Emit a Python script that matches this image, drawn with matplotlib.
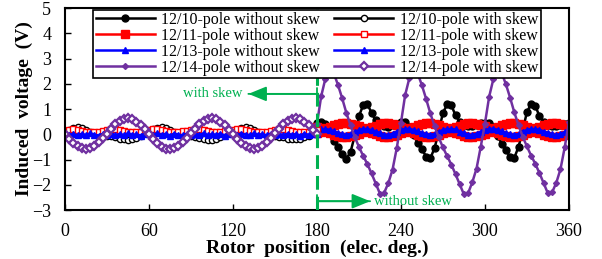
import numpy as np
import matplotlib
matplotlib.use('Agg')
from matplotlib import pyplot as plt

plt.rcParams['font.family'] = 'Liberation Serif'

# rotor positions (elec. deg.) of each half of the trace
POS_WITH = np.arange(0, 181, 3)
POS_WITHOUT = np.arange(180, 361, 3)

# ---- with skew (0 - 180 deg) ----
p10_with = [0.12, 0.18, 0.24, 0.27, 0.25, 0.18, 0.10, 0.03, -0.02, -0.05,
            -0.06, -0.08, -0.12, -0.17, -0.20, -0.21, -0.19, -0.13, -0.05, 0.04,
            0.13, 0.19, 0.25, 0.28, 0.25, 0.17, 0.09, 0.03, -0.02, -0.04,
            -0.06, -0.09, -0.13, -0.18, -0.21, -0.21, -0.18, -0.12, -0.04, 0.05,
            0.12, 0.18, 0.24, 0.27, 0.24, 0.17, 0.10, 0.04, -0.01, -0.05,
            -0.07, -0.09, -0.12, -0.17, -0.20, -0.20, -0.18, -0.12, -0.05, 0.04,
            0.12]
p11_with = [0.15, 0.18, 0.20, 0.18, 0.14, 0.11, 0.09, 0.08, 0.10, 0.13,
            0.16, 0.19, 0.20, 0.17, 0.13, 0.10, 0.08, 0.09, 0.11, 0.14,
            0.17, 0.19, 0.19, 0.16, 0.12, 0.10, 0.08, 0.09, 0.12, 0.15,
            0.18, 0.20, 0.19, 0.16, 0.12, 0.09, 0.08, 0.10, 0.12, 0.15,
            0.17, 0.19, 0.19, 0.16, 0.13, 0.10, 0.08, 0.09, 0.11, 0.14,
            0.17, 0.20, 0.20, 0.17, 0.13, 0.10, 0.08, 0.09, 0.11, 0.14,
            0.16]
p13_with = [0.03, -0.02, 0.01, -0.04, 0.02, -0.03, 0.04, -0.01, -0.05, 0.02,
            -0.02, 0.03, -0.04, 0.01, -0.03, 0.04, -0.02, 0.00, -0.05, 0.03,
            0.01, -0.03, 0.04, -0.02, 0.02, -0.05, 0.03, -0.01, -0.04, 0.02,
            -0.03, 0.03, -0.02, 0.04, -0.04, 0.01, -0.02, 0.03, -0.05, 0.02,
            0.02, -0.04, 0.03, -0.01, -0.03, 0.04, -0.02, 0.01, -0.04, 0.03,
            -0.01, 0.02, -0.04, 0.03, -0.02, 0.01, -0.05, 0.03, -0.02, 0.02,
            0.00]
p14_with = [0.02, -0.18, -0.35, -0.48, -0.56, -0.58, -0.55, -0.46, -0.32, -0.15,
            0.03, 0.21, 0.39, 0.52, 0.61, 0.64, 0.60, 0.50, 0.36, 0.19,
            0.01, -0.19, -0.36, -0.49, -0.57, -0.59, -0.55, -0.45, -0.31, -0.14,
            0.04, 0.22, 0.40, 0.53, 0.62, 0.65, 0.61, 0.50, 0.35, 0.18,
            0.00, -0.19, -0.35, -0.48, -0.56, -0.58, -0.54, -0.45, -0.31, -0.14,
            0.04, 0.22, 0.39, 0.53, 0.61, 0.64, 0.60, 0.49, 0.35, 0.18,
            0.01]

# ---- without skew (180 - 360 deg) ----
p10_without = [0.45, 0.50, 0.40, 0.10, -0.25, -0.50, -0.80, -0.97, -0.70, -0.05,
               0.72, 1.15, 1.20, 0.85, 0.55, 0.40, 0.33, 0.30, 0.35, 0.42,
               0.47, 0.48, 0.30, -0.02, -0.35, -0.60, -0.88, -0.95, -0.55, 0.10,
               0.85, 1.18, 1.15, 0.75, 0.50, 0.38, 0.32, 0.31, 0.36, 0.43,
               0.46, 0.45, 0.28, -0.05, -0.38, -0.62, -0.90, -0.93, -0.50, 0.15,
               0.88, 1.20, 1.12, 0.72, 0.48, 0.37, 0.32, 0.31, 0.36, 0.42,
               0.45]
# 12/11 trace splits into an upper and a lower branch
p11_without_hi = [0.30, 0.23, 0.20, 0.28, 0.35, 0.40, 0.43, 0.44, 0.42, 0.37,
                  0.31, 0.24, 0.21, 0.27, 0.34, 0.40, 0.44, 0.44, 0.41, 0.36,
                  0.30, 0.23, 0.20, 0.28, 0.35, 0.41, 0.43, 0.43, 0.42, 0.37,
                  0.30, 0.24, 0.21, 0.28, 0.34, 0.40, 0.43, 0.44, 0.41, 0.36,
                  0.31, 0.23, 0.20, 0.27, 0.35, 0.40, 0.44, 0.44, 0.42, 0.37,
                  0.30, 0.24, 0.20, 0.28, 0.35, 0.40, 0.43, 0.43, 0.41, 0.36,
                  0.30]
p11_without_lo = [0.04, 0.11, 0.14, 0.06, -0.01, -0.06, -0.09, -0.10, -0.08, -0.03,
                  0.03, 0.10, 0.13, 0.07, 0.00, -0.06, -0.10, -0.10, -0.07, -0.02,
                  0.04, 0.11, 0.14, 0.06, -0.01, -0.07, -0.09, -0.09, -0.08, -0.03,
                  0.04, 0.10, 0.13, 0.06, 0.00, -0.06, -0.09, -0.10, -0.07, -0.02,
                  0.03, 0.11, 0.14, 0.07, -0.01, -0.06, -0.10, -0.10, -0.08, -0.03,
                  0.04, 0.10, 0.14, 0.06, -0.01, -0.06, -0.09, -0.09, -0.07, -0.02,
                  0.04]
p13_without = [0.17, 0.20, 0.21, 0.18, 0.12, 0.05, 0.00, -0.02, 0.02, 0.10,
               0.16, 0.22, 0.20, 0.17, 0.11, 0.06, -0.01, -0.03, 0.03, 0.11,
               0.18, 0.21, 0.22, 0.17, 0.12, 0.04, 0.01, -0.02, 0.02, 0.09,
               0.17, 0.20, 0.21, 0.19, 0.11, 0.05, -0.01, -0.03, 0.03, 0.10,
               0.16, 0.21, 0.22, 0.18, 0.12, 0.05, 0.00, -0.02, 0.01, 0.10,
               0.17, 0.21, 0.20, 0.18, 0.11, 0.06, 0.00, -0.03, 0.02, 0.09,
               0.16]
p14_without = [0.40, 1.50, 2.20, 2.45, 2.42, 1.96, 1.43, 0.85, 0.35, -0.10,
               -0.50, -0.85, -1.18, -1.55, -1.95, -2.35, -2.32, -1.93, -1.40, -0.55,
               0.45, 1.55, 2.22, 2.46, 2.40, 1.94, 1.40, 0.83, 0.33, -0.12,
               -0.52, -0.86, -1.20, -1.58, -1.98, -2.38, -2.33, -1.90, -1.36, -0.50,
               0.42, 1.48, 2.18, 2.44, 2.43, 1.98, 1.45, 0.87, 0.36, -0.09,
               -0.48, -0.84, -1.17, -1.54, -1.94, -2.34, -2.30, -1.92, -1.38, -0.52,
               0.48]

BLACK = '#000000'
RED = '#FF0000'
BLUE = '#0000FF'
PURPLE = '#7030A0'
GREEN = '#00B050'
LW = 1.8


def draw(ax):
    # without skew: filled markers
    ax.plot(POS_WITHOUT, p10_without, color=BLACK, lw=LW, marker='o', ms=5,
            label='12/10-pole without skew')
    ax.plot(POS_WITHOUT, p11_without_hi, color=RED, lw=LW, marker='s', ms=5.5,
            label='12/11-pole without skew')
    ax.plot(POS_WITHOUT, p11_without_lo, color=RED, lw=LW, marker='s', ms=5.5)
    ax.plot(POS_WITHOUT, p13_without, color=BLUE, lw=LW, marker='^', ms=4,
            label='12/13-pole without skew')
    ax.plot(POS_WITHOUT, p14_without, color=PURPLE, lw=LW, marker='D', ms=3,
            label='12/14-pole without skew')
    # with skew: open markers
    ax.plot(POS_WITH, p10_with, color=BLACK, lw=LW, marker='o', ms=4.5,
            mfc='white', label='12/10-pole with skew')
    ax.plot(POS_WITH, p11_with, color=RED, lw=LW, marker='s', ms=5,
            mfc='white', label='12/11-pole with skew')
    ax.plot(POS_WITH, p13_with, color=BLUE, lw=LW, marker='^', ms=4,
            label='12/13-pole with skew')
    ax.plot(POS_WITH, p14_with, color=PURPLE, lw=LW, marker='D', ms=4.2,
            mew=1.6, mfc='white', label='12/14-pole with skew')


fig = plt.figure(figsize=(6.02, 2.59), dpi=100)
ax = fig.add_axes([0.108, 0.189, 0.837, 0.780])
draw(ax)

# boundary between the two halves
ax.axvline(180, color=GREEN, lw=2.2, dashes=(4.5, 2.3), zorder=5)

arrow = '-|>,head_length=1.1,head_width=0.45'
bar = '|-|,widthA=0.45,widthB=0'
for tip, yv in [(131, 1.6), (218, -2.65)]:
    ax.annotate('', xy=(tip, yv), xytext=(180, yv),
                arrowprops=dict(arrowstyle=arrow, color=GREEN, lw=1.3,
                                shrinkA=0, shrinkB=0, mutation_scale=10))
    ax.annotate('', xy=(tip, yv), xytext=(180, yv),
                arrowprops=dict(arrowstyle=bar, color=GREEN, lw=1.3,
                                shrinkA=0, shrinkB=0, mutation_scale=10))
ax.text(127, 1.6, 'with skew', color=GREEN, fontsize=10.5, ha='right', va='center')
ax.text(221, -2.65, 'without skew', color=GREEN, fontsize=10.5, ha='left', va='center')

ax.set_xlim(0, 360)
ax.set_ylim(-3, 5)
ax.set_xticks(range(0, 361, 60))
ax.set_yticks(range(-3, 6))
ax.tick_params(direction='in', length=4, width=1, labelsize=13)
ax.tick_params(axis='x', pad=9)
ax.tick_params(axis='y', pad=10)
for s in ax.spines.values():
    s.set_linewidth(1.5)

ax.set_xlabel('Rotor  position  (elec. deg.)', fontsize=14, fontweight='bold', labelpad=0)
ax.set_ylabel('Induced  voltage  (V)', fontsize=14, fontweight='bold', labelpad=-1)

leg = ax.legend(ncol=2, loc='upper center', bbox_to_anchor=(0.5, 1.0), fontsize=11.5,
                fancybox=False, edgecolor='black', framealpha=1,
                handlelength=3.7, handletextpad=0.4, columnspacing=0.9,
                borderpad=0.15, labelspacing=0.0, borderaxespad=0.1)
leg.get_frame().set_linewidth(1.2)

fig.savefig('out.png', dpi=100)
